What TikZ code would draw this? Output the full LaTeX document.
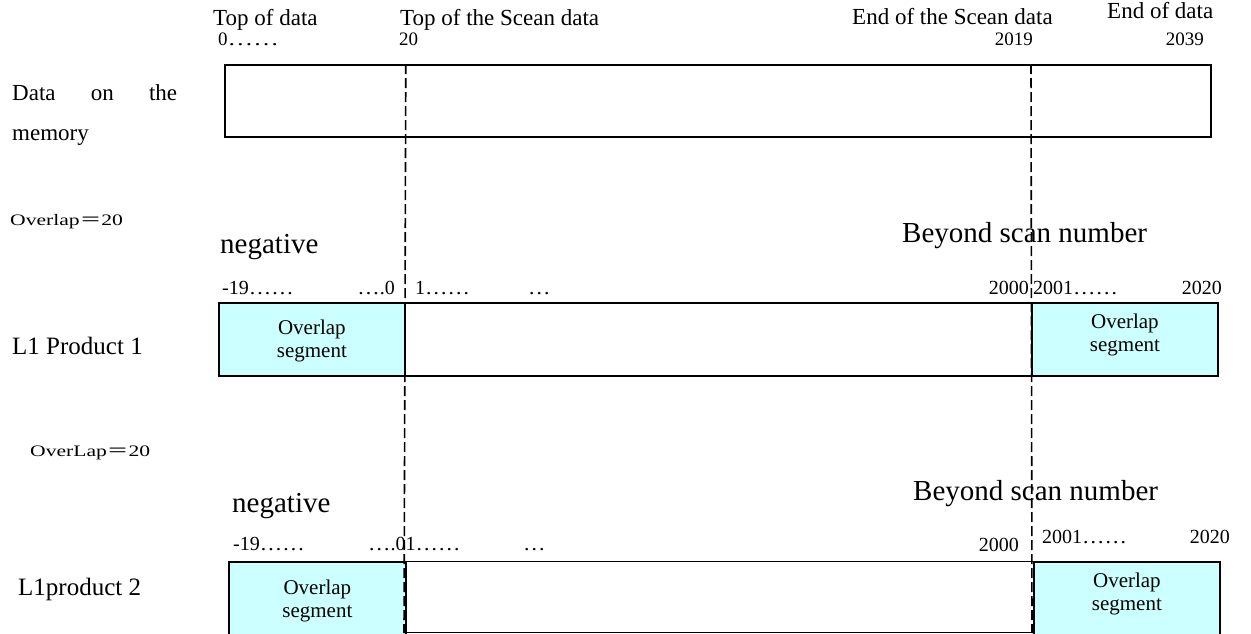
\documentclass[tikz,border=0pt]{standalone}
\usepackage{fontspec}
\setmainfont{Liberation Serif}
\newfontfamily\cjkfont{Noto Sans CJK JP}
\newcommand{\fsz}[1]{\fontsize{#1}{#1}\selectfont}
\newcommand{\el}{\scalebox{1.12}[1]{…}}
\newcommand{\elw}{\scalebox{1.35}[1]{…}}
\definecolor{cyanbg}{RGB}{204,255,255}
\begin{document}
\begin{tikzpicture}[x=1pt,y=-1pt,
  txt/.style={inner sep=0pt, anchor=base west},
  txtr/.style={inner sep=0pt, anchor=base east},
  blk/.style={draw=black, line width=1.8pt, inner sep=0pt, anchor=north west},
  ovl/.style={blk, fill=cyanbg},
  ovltxt/.style={inner sep=0pt, align=center, font=\fontsize{21}{23}\selectfont},
  dashline/.style={line width=1.6pt, dash pattern=on 10pt off 4pt}]
\useasboundingbox (0,0) rectangle (1251,633);

% header labels
\node[txt, font=\fsz{23}] (tdata) at (213,25) {Top of data};
\node[txt, font=\fsz{19}] (n0) at (218,45) {0\elw\elw};
\node[txt, font=\fsz{23}] (tscan) at (400,25) {Top of the Scean data};
\node[txt, font=\fsz{19}] (n20) at (399,45) {20};
\node[txt, font=\fsz{23}] (escan) at (852,24) {End of the Scean data};
\node[txtr, font=\fsz{19}] (n2019) at (1033,45) {2019};
\node[txt, font=\fsz{23}] (edata) at (1107,18) {End of data};
\node[txtr, font=\fsz{19}] (n2039) at (1204,45) {2039};

% memory row
\node[txt, font=\fsz{23}] (mem1) at (12,100) {\makebox[165pt][s]{Data\hfill on\hfill the}};
\node[txt, font=\fsz{23}] (mem2) at (12,140) {memory};
\node[blk, minimum width=986pt, minimum height=72pt] (mem) at (224,64) {};

% product 1
\node[txt, font=\fsz{16}] (ov1) at (10,225) {\scalebox{1.35}[1]{Overlap{\cjkfont ＝}20}};
\node[txt, font=\fsz{29}] (neg1) at (220,253) {negative};
\node[txt, font=\fsz{29}] (bey1) at (902,242) {Beyond scan number};
\node[txt, font=\fsz{20}] (a1) at (222,294) {-19\el\el};
\node[txtr, font=\fsz{20}] (b1) at (395,294) {\el.0};
\node[txt, font=\fsz{20}] (c1) at (415,294) {1\el\el};
\node[txt, font=\fsz{20}] (d1) at (528,294) {\el};
\node[txtr, font=\fsz{20}] (e1) at (1029,294) {2000};
\node[txt, font=\fsz{20}] (f1) at (1033,294) {2001\el\el};
\node[txtr, font=\fsz{20}] (g1) at (1222,294) {2020};
\node[txt, font=\fsz{25}] (p1) at (12,354) {L1 Product 1};
\node[ovl, minimum width=186pt, minimum height=73pt] (p1l) at (218,302) {};
\node[blk, minimum width=627pt, minimum height=73pt] (p1m) at (404,302) {};
\node[ovl, minimum width=186pt, minimum height=73pt] (p1r) at (1031,302) {};
\node[ovltxt] (p1lt) at ([yshift=-1.5pt]p1l.center) {Overlap\\segment};
\node[ovltxt] (p1rt) at ([yshift=4.5pt]p1r.center) {Overlap\\segment};

% product 2
\node[txt, font=\fsz{16}] (ov2) at (30,456) {\scalebox{1.35}[1]{OverLap{\cjkfont ＝}20}};
\node[txt, font=\fsz{29}] (neg2) at (232,512) {negative};
\node[txt, font=\fsz{29}] (bey2) at (913,500) {Beyond scan number};
\node[txt, font=\fsz{20}] (a2) at (233,550) {-19\el\el};
\node[txt, font=\fsz{20}] (b2) at (368,550) {\el.01\el\el};
\node[txt, font=\fsz{20}] (d2) at (523,550) {\el};
\node[txtr, font=\fsz{20}] (e2) at (1019,551) {2000};
\node[txt, font=\fsz{20}] (f2) at (1042,543) {2001\el\el};
\node[txtr, font=\fsz{20}] (g2) at (1230,543) {2020};
\node[txt, font=\fsz{25}] (p2) at (18,595) {L1product 2};
\node[blk, minimum width=628pt, minimum height=71pt, line width=1.4pt] (p2m) at (405,561) {};
\node[ovl, minimum width=177pt, minimum height=80pt] (p2l) at (228,561) {};
\node[ovl, minimum width=186pt, minimum height=80pt] (p2r) at (1033,561) {};
\node[ovltxt] (p2lt) at ([yshift=1pt]p2l.center) {Overlap\\segment};
\node[ovltxt] (p2rt) at ([yshift=8pt]p2r.center) {Overlap\\segment};

% dashed guide lines
\coordinate (dl) at (404,633);
\coordinate (dr) at (1032,633);
\draw[dashline] (mem.north west -| p1l.north east) -- (dl);
\draw[dashline] (mem.north west -| p1r.north west) -- (dr);
\end{tikzpicture}
\end{document}
